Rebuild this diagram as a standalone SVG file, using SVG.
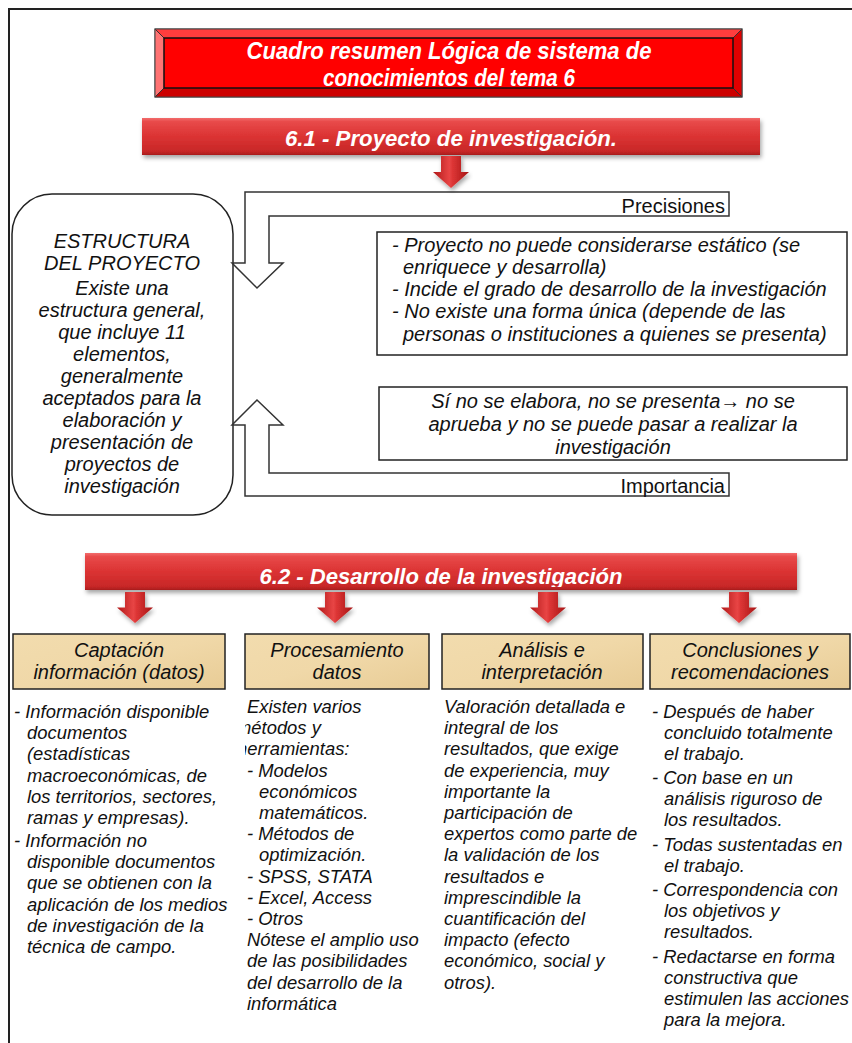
<svg xmlns="http://www.w3.org/2000/svg" width="852" height="1043" viewBox="0 0 852 1043">
<style>
  text { font-family: "Liberation Sans", Arial, sans-serif; fill: #111; }
  .hdr { font-weight: bold; font-style: italic; fill: #fff; font-size: 23px; text-anchor: middle; }
  .it, .it text { font-style: italic; }
  .c, .c text { text-anchor: middle; }
  .big, .big text { font-size: 20px; }
  .col, .col text { font-size: 18.4px; font-style: italic; }
  .block { fill: #fff; stroke: #333; stroke-width: 1.5; }
  .parch { fill: url(#parch); stroke: #222; stroke-width: 1.5; }
  .rarrow { fill: url(#arrowGrad); filter: url(#shadow); }
</style>
<defs>
  <linearGradient id="barGrad" x1="0" y1="0" x2="0" y2="1">
    <stop offset="0" stop-color="#f26b6b"/>
    <stop offset="0.1" stop-color="#e84a4a"/>
    <stop offset="0.5" stop-color="#db3333"/>
    <stop offset="0.9" stop-color="#c82828"/>
    <stop offset="1" stop-color="#a81c1c"/>
  </linearGradient>
  <linearGradient id="arrowGrad" x1="0" y1="0" x2="1" y2="0">
    <stop offset="0" stop-color="#b01818"/>
    <stop offset="0.45" stop-color="#e84545"/>
    <stop offset="0.55" stop-color="#dc3535"/>
    <stop offset="1" stop-color="#a51414"/>
  </linearGradient>
  <linearGradient id="parch" x1="0" y1="0" x2="1" y2="1">
    <stop offset="0" stop-color="#f2dcae"/>
    <stop offset="0.5" stop-color="#f0d8a8"/>
    <stop offset="1" stop-color="#e8cc96"/>
  </linearGradient>
  <filter id="shadow" x="-10%" y="-20%" width="120%" height="150%">
    <feDropShadow dx="1.5" dy="3" stdDeviation="2" flood-color="#000" flood-opacity="0.35"/>
  </filter>
  <path id="dnArrow" d="M-10,0 H10 V16 H18 L0,32 L-18,16 H-10 Z"/>
  <clipPath id="col2clip"><rect x="245" y="690" width="200" height="353"/></clipPath>
  <clipPath id="bar62clip"><rect x="85" y="553" width="712" height="34"/></clipPath>
</defs>

<!-- outer frame -->
<path d="M9,1043 V9 H852" fill="none" stroke="#222" stroke-width="2"/>

<!-- title -->
<g id="title">
  <rect x="155" y="29" width="587" height="68" fill="#ff2a2a" stroke="#444" stroke-width="1"/>
  <polygon points="155,29 742,29 733,38 164,38" fill="#ff3d3d"/>
  <polygon points="155,29 164,38 164,88 155,97" fill="#ff7373"/>
  <polygon points="742,29 742,97 733,88 733,38" fill="#e00000"/>
  <polygon points="155,97 164,88 733,88 742,97" fill="#cc0000"/>
  <path d="M155,29 L164,38 M742,29 L733,38 M155,97 L164,88 M742,97 L733,88" stroke="#333" stroke-width="1"/>
  <rect x="164" y="38" width="569" height="50" fill="#ff0000" stroke="#111" stroke-width="1.5"/>
  <rect x="155" y="29" width="587" height="68" fill="none" stroke="#444" stroke-width="1"/>
  <text class="hdr" x="449" y="59" textLength="405" lengthAdjust="spacingAndGlyphs">Cuadro resumen Lógica de sistema de</text>
  <text class="hdr" x="449" y="86" textLength="252" lengthAdjust="spacingAndGlyphs">conocimientos del tema 6</text>
</g>

<!-- 6.1 bar -->
<g id="bar61">
  <rect x="142" y="118" width="618" height="37" fill="url(#barGrad)" filter="url(#shadow)"/>
  <text class="hdr" x="451" y="146" style="font-size:22px" textLength="332" lengthAdjust="spacingAndGlyphs">6.1 - Proyecto de investigación.</text>
</g>

<!-- estructura -->
<g id="estructura">
  <rect x="12" y="194" width="221" height="321" rx="40" ry="40" fill="#fff" stroke="#222" stroke-width="1.5"/>
  <g class="it big c">
    <text x="122" y="248">ESTRUCTURA</text>
    <text x="122" y="270">DEL PROYECTO</text>
    <text x="122" y="295">Existe una</text>
    <text x="122" y="317">estructura general,</text>
    <text x="122" y="339">que incluye 11</text>
    <text x="122" y="361">elementos,</text>
    <text x="122" y="383">generalmente</text>
    <text x="122" y="405">aceptados para la</text>
    <text x="122" y="427">elaboración y</text>
    <text x="122" y="449">presentación de</text>
    <text x="122" y="471">proyectos de</text>
    <text x="122" y="493">investigación</text>
  </g>
</g>

<!-- precisiones text -->
<g id="precisiones">
  <rect x="377" y="232" width="470" height="123" fill="#fff" stroke="#222" stroke-width="1.5"/>
  <g class="it big">
    <text x="392" y="252">- Proyecto no puede considerarse estático (se</text>
    <text x="403" y="274">enriquece y desarrolla)</text>
    <text x="392" y="296">- Incide el grado de desarrollo de la investigación</text>
    <text x="392" y="318">- No existe una forma única (depende de las</text>
    <text x="403" y="341">personas o instituciones a quienes se presenta)</text>
  </g>
</g>

<!-- importancia text -->
<g id="importancia">
  <rect x="379" y="387" width="468" height="73" fill="#fff" stroke="#222" stroke-width="1.5"/>
  <g class="it big c">
    <text x="613" y="408">Sí no se elabora, no se presenta→ no se</text>
    <text x="613" y="431">aprueba y no se puede pasar a realizar la</text>
    <text x="613" y="454">investigación</text>
  </g>
</g>

<!-- 6.2 bar -->
<g id="bar62">
  <rect x="85" y="553" width="712" height="37" fill="url(#barGrad)" filter="url(#shadow)"/>
  <text class="hdr" x="441" y="584" style="font-size:22px" clip-path="url(#bar62clip)" textLength="363" lengthAdjust="spacingAndGlyphs">6.2 - Desarrollo de la investigación</text>
</g>

<!-- connectors -->
<g id="connectors">
  <path class="block" d="M729,192 H245 V263 H232 L257,288 L283,263 H269 V216 H729 Z"/>
  <text class="big" x="725" y="213" text-anchor="end">Precisiones</text>
  <path class="block" d="M729,496 H245 V425 H232 L257,400 L283,425 H269 V473 H729 Z"/>
  <text class="big" x="725" y="493" text-anchor="end">Importancia</text>
  <use href="#dnArrow" class="rarrow" transform="translate(451,156)"/>
  <use href="#dnArrow" class="rarrow" transform="translate(135,592) scale(1,0.97)"/>
  <use href="#dnArrow" class="rarrow" transform="translate(335,592) scale(1,0.97)"/>
  <use href="#dnArrow" class="rarrow" transform="translate(548,592) scale(1,0.97)"/>
  <use href="#dnArrow" class="rarrow" transform="translate(739,592) scale(1,0.97)"/>
</g>

<!-- column 1 -->
<g id="captacion">
  <rect class="parch" x="13" y="634" width="212" height="55"/>
  <g class="it big c">
    <text x="119" y="657">Captación</text>
    <text x="119" y="679">información (datos)</text>
  </g>
  <g class="col">
    <text x="14" y="718">- Información disponible</text>
    <text x="27" y="739.2">documentos</text>
    <text x="27" y="760.4">(estadísticas</text>
    <text x="27" y="781.6">macroeconómicas, de</text>
    <text x="27" y="802.8">los territorios, sectores,</text>
    <text x="27" y="824">ramas y empresas).</text>
    <text x="14" y="847">- Información no</text>
    <text x="27" y="868.2">disponible documentos</text>
    <text x="27" y="889.4">que se obtienen con la</text>
    <text x="27" y="910.6">aplicación de los medios</text>
    <text x="27" y="931.8">de investigación de la</text>
    <text x="27" y="953">técnica de campo.</text>
  </g>
</g>

<!-- column 2 -->
<g id="procesamiento">
  <rect class="parch" x="245" y="634" width="184" height="55"/>
  <g class="it big c">
    <text x="337" y="657">Procesamiento</text>
    <text x="337" y="679">datos</text>
  </g>
  <g class="col" clip-path="url(#col2clip)">
    <text x="247" y="713">Existen varios</text>
    <text x="236" y="734.2">métodos y</text>
    <text x="237" y="755.4">herramientas:</text>
    <text x="247" y="776.6">- Modelos</text>
    <text x="259" y="797.8">económicos</text>
    <text x="259" y="819">matemáticos.</text>
    <text x="247" y="840.2">- Métodos de</text>
    <text x="259" y="861.4">optimización.</text>
    <text x="247" y="882.6">- SPSS, STATA</text>
    <text x="247" y="903.8">- Excel, Access</text>
    <text x="247" y="925">- Otros</text>
    <text x="247" y="946.2">Nótese el amplio uso</text>
    <text x="247" y="967.4">de las posibilidades</text>
    <text x="247" y="988.6">del desarrollo de la</text>
    <text x="247" y="1009.8">informática</text>
  </g>
</g>

<!-- column 3 -->
<g id="analisis">
  <rect class="parch" x="442" y="634" width="201" height="55"/>
  <g class="it big c">
    <text x="542" y="657">Análisis e</text>
    <text x="542" y="679">interpretación</text>
  </g>
  <g class="col">
    <text x="444" y="713">Valoración detallada e</text>
    <text x="444" y="734.2">integral de los</text>
    <text x="444" y="755.4">resultados, que exige</text>
    <text x="444" y="776.6">de experiencia, muy</text>
    <text x="444" y="797.8">importante la</text>
    <text x="444" y="819">participación de</text>
    <text x="444" y="840.2">expertos como parte de</text>
    <text x="444" y="861.4">la validación de los</text>
    <text x="444" y="882.6">resultados e</text>
    <text x="444" y="903.8">imprescindible la</text>
    <text x="444" y="925">cuantificación del</text>
    <text x="444" y="946.2">impacto (efecto</text>
    <text x="444" y="967.4">económico, social y</text>
    <text x="444" y="988.6">otros).</text>
  </g>
</g>

<!-- column 4 -->
<g id="conclusiones">
  <rect class="parch" x="650" y="634" width="200" height="55"/>
  <g class="it big c">
    <text x="750" y="657">Conclusiones y</text>
    <text x="750" y="679">recomendaciones</text>
  </g>
  <g class="col">
    <text x="652" y="718">- Después de haber</text>
    <text x="664" y="739">concluido totalmente</text>
    <text x="664" y="760">el trabajo.</text>
    <text x="652" y="784">- Con base en un</text>
    <text x="664" y="805">análisis riguroso de</text>
    <text x="664" y="826">los resultados.</text>
    <text x="652" y="851">- Todas sustentadas en</text>
    <text x="664" y="872">el trabajo.</text>
    <text x="652" y="896">- Correspondencia con</text>
    <text x="664" y="917">los objetivos y</text>
    <text x="664" y="938">resultados.</text>
    <text x="652" y="963">- Redactarse en forma</text>
    <text x="664" y="984">constructiva que</text>
    <text x="664" y="1005">estimulen las acciones</text>
    <text x="664" y="1026">para la mejora.</text>
  </g>
</g>
</svg>
